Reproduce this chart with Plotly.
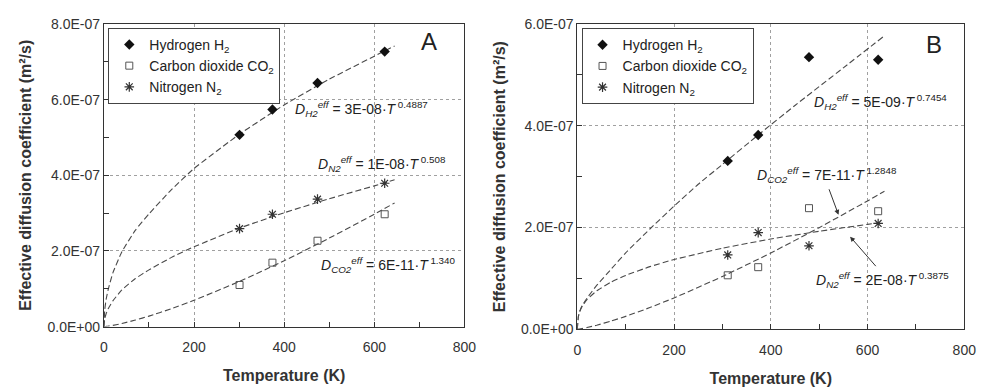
import plotly.graph_objects as go

# ---------------- data ----------------
SCALE = 1e-7  # curve sample values below are in units of 1e-7 m²/s

# Panel A : measured points
T_A = [301, 374, 474, 623]
H2_A = [5.07e-7, 5.74e-7, 6.44e-7, 7.27e-7]
CO2_A = [1.10e-7, 1.69e-7, 2.27e-7, 2.97e-7]
N2_A = [2.59e-7, 2.97e-7, 3.37e-7, 3.79e-7]

# Panel A : fitted trend curves
TC_A = [0, 2, 5, 10, 20, 40, 70, 100, 150, 200, 300, 400, 500, 600, 645]
H2C_A = [0, 0.45, 0.72, 1.00, 1.42, 1.98, 2.55, 2.98, 3.62, 4.18, 5.08, 5.86, 6.54, 7.15, 7.42]
N2C_A = [0, 0.21, 0.34, 0.48, 0.68, 0.97, 1.27, 1.50, 1.83, 2.11, 2.60, 3.01, 3.38, 3.72, 3.88]
CO2C_A = [0, 0.002, 0.005, 0.013, 0.033, 0.082, 0.173, 0.277, 0.474, 0.694, 1.19, 1.74, 2.34, 2.97, 3.27]

# Panel B : measured points
T_B = [311, 374, 479, 622]
H2_B = [3.31e-7, 3.82e-7, 5.35e-7, 5.30e-7]
CO2_B = [1.06e-7, 1.22e-7, 2.38e-7, 2.32e-7]
N2_B = [1.46e-7, 1.90e-7, 1.64e-7, 2.08e-7]

# Panel B : fitted trend curves
TH2C_B = [0, 2, 5, 10, 20, 40, 70, 100, 150, 200, 250, 300, 374, 450, 550, 635]
H2C_B = [0, 0.24, 0.35, 0.46, 0.61, 0.86, 1.18, 1.50, 1.97, 2.42, 2.85, 3.24, 3.82, 4.40, 5.14, 5.77]
TN2C_B = [0, 2, 5, 10, 20, 40, 70, 100, 150, 200, 300, 400, 500, 600, 625]
N2C_B = [0, 0.247, 0.347, 0.449, 0.582, 0.753, 0.927, 1.058, 1.230, 1.370, 1.592, 1.773, 1.926, 2.061, 2.093]
TCO2C_B = [0, 10, 20, 40, 70, 100, 150, 200, 300, 400, 500, 600, 635]
CO2C_B = [0, 0.013, 0.032, 0.078, 0.160, 0.252, 0.425, 0.615, 1.036, 1.499, 1.997, 2.523, 2.714]

# ticks
X_TICKS = [0, 200, 400, 600, 800]
X_TICKTEXT = ["0", "200", "400", "600", "800"]
X_MINOR = [100, 300, 500, 700]
Y_TICKS_A = [0, 2e-7, 4e-7, 6e-7, 8e-7]
Y_TICKTEXT_A = ["0.0E+00", "2.0E-07", "4.0E-07", "6.0E-07", "8.0E-07"]
Y_MINOR_A = [1e-7, 3e-7, 5e-7, 7e-7]
Y_TICKS_B = [0, 2e-7, 4e-7, 6e-7]
Y_TICKTEXT_B = ["0.0E+00", "2.0E-07", "4.0E-07", "6.0E-07"]
Y_MINOR_B = [1e-7, 3e-7, 5e-7]

NAMES = ["Hydrogen H<sub>2</sub>", "Carbon dioxide CO<sub>2</sub>", "Nitrogen N<sub>2</sub>"]

# ---------------- styling ----------------
FONT = "Liberation Sans, Arial, Helvetica, sans-serif"
W, H = 992, 388
LINE = dict(color="#4a4a4a", width=1.1, dash="6px,3px", shape="spline", smoothing=0.4)
MARK = [
    dict(symbol="diamond", size=8, color="#111111"),
    dict(symbol="square-open", size=7, color="#555555", line=dict(width=1)),
    dict(symbol="asterisk-open", size=8, color="#333333", line=dict(width=1.2, color="#333333")),
]

fig = go.Figure()


def add_panel(xa, ya, legend, T, pts, curves):
    for (tc, vc) in curves:
        fig.add_trace(go.Scatter(x=tc, y=[v * SCALE for v in vc], mode="lines", line=LINE,
                                 showlegend=False, hoverinfo="skip", xaxis=xa, yaxis=ya))
    for name, vals, mk in zip(NAMES, pts, MARK):
        fig.add_trace(go.Scatter(x=T, y=vals, mode="markers", name=name, marker=mk,
                                 legend=legend, xaxis=xa, yaxis=ya))


add_panel("x", "y", "legend", T_A, [H2_A, CO2_A, N2_A],
          [(TC_A, H2C_A), (TC_A, N2C_A), (TC_A, CO2C_A)])
add_panel("x2", "y2", "legend2", T_B, [H2_B, CO2_B, N2_B],
          [(TH2C_B, H2C_B), (TN2C_B, N2C_B), (TCO2C_B, CO2C_B)])


def xaxis(domain, anchor):
    return dict(domain=domain, anchor=anchor, range=[0, 800], tickvals=X_TICKS, ticktext=X_TICKTEXT,
                showgrid=True, gridcolor="#a0a0a0", griddash="dot", gridwidth=1,
                ticks="inside", ticklen=5, tickcolor="#333", showline=True, linecolor="#333",
                linewidth=1, mirror=True, zeroline=False, ticklabelstandoff=8,
                minor=dict(tickvals=X_MINOR, ticks="inside", ticklen=5, tickcolor="#333", showgrid=False),
                tickfont=dict(size=14, color="#333", family=FONT),
                title=dict(text="<b>Temperature (K)</b>", font=dict(size=16, color="#333", family=FONT),
                           standoff=15))


def yaxis(domain, anchor, rng, tv, tt, mn):
    return dict(domain=domain, anchor=anchor, range=rng, tickvals=tv, ticktext=tt,
                showgrid=True, gridcolor="#a0a0a0", griddash="dot", gridwidth=1,
                ticks="inside", ticklen=5, tickcolor="#333", showline=True, linecolor="#333",
                linewidth=1, mirror=True, zeroline=False,
                minor=dict(tickvals=mn, ticks="inside", ticklen=5, tickcolor="#333", showgrid=False),
                tickfont=dict(size=14, color="#333", family=FONT),
                title=dict(text="<b>Effective diffusion coefficient (m²/s)</b>",
                           font=dict(size=16, color="#333", family=FONT), standoff=11))


xA = [101.5 / W, 468 / W]
xB = [582.7 / W, 976 / W]
yA = [1 - 332.3 / H, 1 - 16.7 / H]
yB = [1 - 335 / H, 1 - 16.8 / H]

legend_style = dict(bgcolor="white", bordercolor="#444", borderwidth=1,
                    font=dict(size=14, color="#222", family=FONT), itemwidth=30,
                    xanchor="left", yanchor="top", tracegroupgap=0)


def ann(xr, yr, x, y, text, size=14, **kw):
    d = dict(xref=xr, yref=yr, x=x, y=y, text=text, showarrow=False, xanchor="left", yanchor="middle",
             font=dict(size=size, color="#222", family=FONT))
    d.update(kw)
    return d


def deq(sub, coef, exp):
    return ("<i>D</i><sub><i>%s</i></sub><sup><i>eff</i></sup> = %s·<i>T</i><sup> %s</sup>"
            % (sub, coef, exp))


annotations = [
    ann("x", "y", 420, 5.76e-7, deq("H2", "3E-08", "0.4887")),
    ann("x", "y", 470, 4.29e-7, deq("N2", "1E-08", "0.508")),
    ann("x", "y", 477, 1.63e-7, deq("CO2", "6E-11", "1.340")),
    ann("x", "y", 721, 7.54e-7, "A", size=24, xanchor="center"),
    ann("x2", "y2", 486, 4.46e-7, deq("H2", "5E-09", "0.7454")),
    ann("x2", "y2", 367, 3.04e-7, deq("CO2", "7E-11", "1.2848")),
    ann("x2", "y2", 489, 0.97e-7, deq("N2", "2E-08", "0.3875")),
    ann("x2", "y2", 737, 5.60e-7, "B", size=24, xanchor="center"),
    dict(xref="x2", yref="y2", x=540, y=2.25e-7, ax=-10, ay=-27, text="", showarrow=True,
         arrowhead=2, arrowsize=1, arrowwidth=1, arrowcolor="#333"),
    dict(xref="x2", yref="y2", x=564, y=1.82e-7, ax=27, ay=31, text="", showarrow=True,
         arrowhead=2, arrowsize=1, arrowwidth=1, arrowcolor="#333"),
]

fig.update_layout(
    width=W, height=H, margin=dict(l=0, r=0, t=0, b=0),
    paper_bgcolor="white", plot_bgcolor="white",
    font=dict(family=FONT, color="#222"),
    xaxis=xaxis(xA, "y"), yaxis=yaxis(yA, "x", [0, 8e-7], Y_TICKS_A, Y_TICKTEXT_A, Y_MINOR_A),
    xaxis2=xaxis(xB, "y2"), yaxis2=yaxis(yB, "x2", [0, 6e-7], Y_TICKS_B, Y_TICKTEXT_B, Y_MINOR_B),
    legend=dict(x=106 / W, y=1 - 20.7 / H, **legend_style),
    legend2=dict(x=587 / W, y=1 - 21 / H, **legend_style),
    annotations=annotations,
    showlegend=True,
)

fig.write_html("out.html")
